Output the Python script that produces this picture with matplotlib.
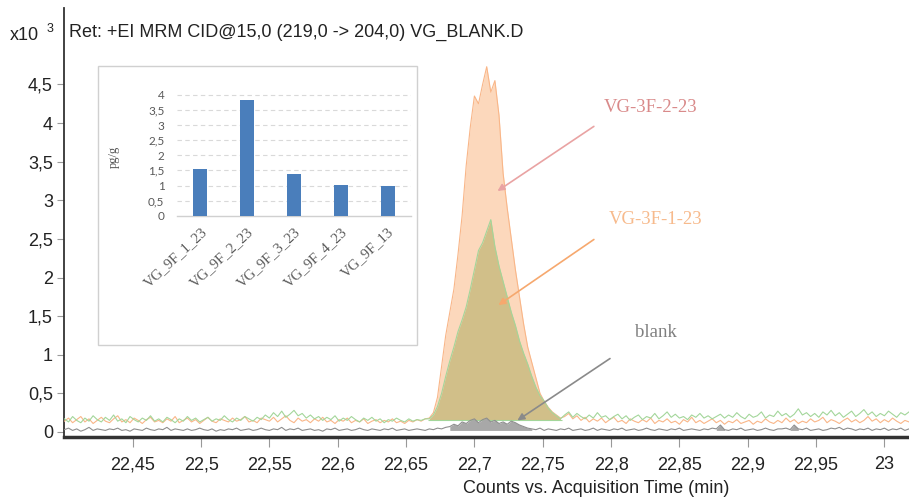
import numpy as np
import matplotlib
matplotlib.use("Agg")
import matplotlib.pyplot as plt
from matplotlib.patches import Rectangle

# ---------------- data ----------------
t_start, t_step, n_pts = 22.400, 0.003, 207
acq_time = t_start + t_step * np.arange(n_pts)   # acquisition time grid (min)

# VG-3F-2-23 (x10^3 counts)
vg_2_23 = [
    0.14,0.18,0.12,0.16,0.20,0.13,0.17,0.11,0.15,0.19,
    0.14,0.12,0.17,0.21,0.13,0.16,0.12,0.18,0.15,0.11,
    0.16,0.19,0.13,0.15,0.12,0.17,0.14,0.20,0.12,0.15,
    0.18,0.13,0.16,0.11,0.15,0.19,0.14,0.12,0.17,0.15,
    0.13,0.18,0.14,0.16,0.20,0.13,0.15,0.12,0.18,0.16,
    0.14,0.19,0.13,0.17,0.21,0.15,0.12,0.18,0.14,0.16,
    0.12,0.17,0.14,0.19,0.13,0.15,0.11,0.16,0.14,0.18,
    0.12,0.15,0.13,0.17,0.11,0.14,0.16,0.12,0.15,0.13,
    0.17,0.12,0.14,0.11,0.15,0.13,0.16,0.14,0.17,
    0.18,0.25,0.45,0.85,1.25,1.55,1.85,2.30,2.80,3.45,
    3.95,4.35,4.25,4.50,4.73,4.40,4.55,4.10,3.35,2.90,
    2.50,2.10,1.75,1.40,1.10,0.90,0.70,0.50,0.40,0.32,
    0.26,0.22,0.18,
    0.20,0.24,0.17,0.21,0.15,0.19,0.13,0.17,0.14,0.18,
    0.12,0.16,0.19,0.13,0.15,0.11,0.17,0.14,0.12,0.16,
    0.13,0.18,0.11,0.15,0.13,0.17,0.12,0.14,0.10,0.16,
    0.13,0.19,0.12,0.15,0.11,0.14,0.17,0.12,0.15,0.10,
    0.14,0.12,0.16,0.11,0.13,0.15,0.10,0.14,0.12,0.17,
    0.13,0.11,0.15,0.12,0.18,0.13,0.16,0.11,0.14,0.12,
    0.17,0.13,0.15,0.19,0.12,0.16,0.14,0.11,0.15,0.18,
    0.13,0.16,0.12,0.15,0.20,0.14,0.17,0.12,0.16,0.13,
    0.18,0.14,0.11,0.15,0.13,
]

# VG-3F-1-23 (x10^3 counts)
vg_1_23 = [
    0.17,0.13,0.20,0.15,0.12,0.18,0.14,0.21,0.16,0.13,
    0.19,0.15,0.22,0.14,0.17,0.12,0.20,0.16,0.13,0.18,
    0.15,0.21,0.14,0.17,0.13,0.19,0.16,0.12,0.17,0.14,
    0.20,0.15,0.18,0.13,0.16,0.19,0.14,0.17,0.15,0.21,
    0.16,0.13,0.18,0.15,0.20,0.17,0.14,0.19,0.16,0.22,
    0.18,0.25,0.20,0.27,0.19,0.23,0.28,0.21,0.24,0.18,
    0.22,0.17,0.20,0.15,0.19,0.16,0.21,0.14,0.18,0.15,
    0.20,0.16,0.13,0.18,0.15,0.19,0.14,0.17,0.12,0.16,
    0.14,0.18,0.15,0.13,0.17,0.14,0.16,0.15,0.17,
    0.17,0.22,0.33,0.50,0.72,0.92,1.10,1.30,1.45,1.62,
    1.85,2.10,2.35,2.45,2.60,2.75,2.40,2.15,1.95,1.75,
    1.55,1.38,1.18,1.02,0.88,0.72,0.58,0.47,0.40,0.31,
    0.25,0.21,0.17,
    0.22,0.26,0.19,0.24,0.20,0.17,0.22,0.18,0.25,0.19,
    0.21,0.16,0.20,0.23,0.17,0.21,0.15,0.19,0.22,0.16,
    0.20,0.18,0.24,0.17,0.21,0.26,0.19,0.23,0.18,0.20,
    0.16,0.22,0.19,0.24,0.18,0.21,0.17,0.20,0.23,0.18,
    0.22,0.19,0.25,0.20,0.17,0.23,0.19,0.21,0.26,0.18,
    0.22,0.20,0.27,0.21,0.24,0.19,0.23,0.30,0.22,0.25,
    0.20,0.24,0.19,0.26,0.22,0.28,0.21,0.25,0.19,0.23,
    0.27,0.20,0.24,0.29,0.22,0.26,0.20,0.24,0.21,0.27,
    0.23,0.19,0.25,0.22,0.26,
]

# blank (x10^3 counts)
blank = [
    0.03,0.05,0.02,0.04,0.01,0.03,0.06,0.02,0.04,0.03,
    0.02,0.04,0.03,0.05,0.02,0.03,0.01,0.04,0.03,0.02,
    0.05,0.03,0.02,0.04,0.03,0.06,0.02,0.04,0.03,0.02,
    0.04,0.02,0.03,0.05,0.03,0.02,0.04,0.01,0.03,0.02,
    0.04,0.03,0.05,0.02,0.03,0.04,0.02,0.03,0.05,0.03,
    0.02,0.04,0.03,0.06,0.02,0.04,0.03,0.05,0.02,0.03,
    0.04,0.02,0.03,0.01,0.04,0.03,0.05,0.02,0.03,0.04,
    0.02,0.03,0.05,0.03,0.02,0.04,0.03,0.02,0.04,0.03,
    0.05,0.02,0.03,0.04,0.02,0.03,0.04,0.03,0.02,0.04,
    0.03,0.05,0.04,0.06,
    0.07,0.10,0.08,0.13,0.11,0.15,0.17,0.12,0.16,0.18,
    0.13,0.15,0.11,0.13,0.10,0.14,0.12,0.09,0.07,0.05,0.04,
    0.03,0.05,0.02,0.04,0.03,0.02,0.04,0.03,0.05,0.02,
    0.03,0.04,0.02,0.03,0.05,0.02,0.04,0.03,0.02,0.04,
    0.03,0.05,0.02,0.03,0.04,0.02,0.03,0.05,0.03,0.02,
    0.04,0.03,0.02,0.04,0.03,0.05,0.02,0.03,0.04,0.03,
    0.02,0.04,0.03,0.05,0.04,0.09,0.03,0.02,0.04,0.03,
    0.05,0.02,0.03,0.04,0.02,0.03,0.05,0.03,0.02,0.04,
    0.04,0.05,0.03,0.09,0.04,0.03,0.05,0.02,0.03,0.04,
    0.02,0.03,0.05,0.04,0.06,0.03,0.05,0.04,0.02,0.04,
    0.03,0.05,0.02,0.04,0.03,0.05,0.02,0.04,0.03,0.05,
    0.02,0.04,
]

peak_window = (22.666, 22.764)      # integrated peak region (min)
peak_baseline = 0.16                # integration baseline (x10^3)
blank_windows = [(22.681, 22.743), (22.8765, 22.8835), (22.9305, 22.9375)]
blank_baseline = 0.02

x_ticks = [22.45, 22.50, 22.55, 22.60, 22.65, 22.70, 22.75, 22.80, 22.85, 22.90, 22.95, 23.00]
x_tick_labels = ["22,45", "22,5", "22,55", "22,6", "22,65", "22,7", "22,75", "22,8",
                 "22,85", "22,9", "22,95", "23"]
y_ticks = [0, 0.5, 1, 1.5, 2, 2.5, 3, 3.5, 4, 4.5]
y_tick_labels = ["0", "0,5", "1", "1,5", "2", "2,5", "3", "3,5", "4", "4,5"]

# inset bar chart
inset_categories = ["VG_9F_1_23", "VG_9F_2_23", "VG_9F_3_23", "VG_9F_4_23", "VG_9F_13"]
inset_values = [1.55, 3.82, 1.38, 1.01, 0.97]
inset_y_ticks = [0, 0.5, 1, 1.5, 2, 2.5, 3, 3.5, 4]
inset_y_tick_labels = ["0", "0,5", "1", "1,5", "2", "2,5", "3", "3,5", "4"]

# ---------------- figure ----------------
W, H = 909, 498
fig = plt.figure(figsize=(W / 100, H / 100), dpi=100)
sans = ["Liberation Sans", "DejaVu Sans"]
serif = ["Liberation Serif", "DejaVu Serif"]
FS = 13

def fx(px):
    return px / W

def fy(py):
    return 1 - py / H

ax = fig.add_axes([fx(64), fy(437), fx(909) - fx(64), fy(8) - fy(437)])
ax.set_xlim(22.3997, 23.018)
ax.set_ylim(-0.065, 5.49)

t = acq_time
y2 = np.array(vg_2_23)
y1 = np.array(vg_1_23)
yb = np.array(blank)

pk = (t >= peak_window[0]) & (t <= peak_window[1])
ax.fill_between(t, peak_baseline, y2, where=pk, color="#FCD8BC", lw=0, zorder=1)
ax.fill_between(t, peak_baseline, y1, where=pk, color="#D1BF89", lw=0, zorder=2)
ax.plot(t, y2, color="#F9B688", lw=0.8, zorder=3)
ax.plot(t, y1, color="#A3D69A", lw=0.8, zorder=4)
ax.hlines(peak_baseline, peak_window[0], peak_window[1], color="#A3D69A", lw=0.8, zorder=4)

for (a, b) in blank_windows:
    m = (t >= a) & (t <= b)
    ax.fill_between(t, blank_baseline, yb, where=m, color="#A8A8A8", lw=0, zorder=5)
ax.plot(t, yb, color="#8E8E8E", lw=0.8, zorder=6)

ax.set_xticks(x_ticks)
ax.set_xticklabels(x_tick_labels)
ax.set_yticks(y_ticks)
ax.set_yticklabels(y_tick_labels)
for lab in ax.get_xticklabels() + ax.get_yticklabels():
    lab.set_family(sans)
    lab.set_fontsize(FS)
    lab.set_color("#222222")
ax.tick_params(axis="x", direction="out", length=7, width=0.8, color="#999999", pad=7)
ax.tick_params(axis="y", direction="out", length=5, width=0.8, color="#999999", pad=3)
for s in ("top", "right"):
    ax.spines[s].set_visible(False)
ax.spines["left"].set_color("#333333")
ax.spines["left"].set_linewidth(1.3)
ax.spines["bottom"].set_color("#333333")
ax.spines["bottom"].set_linewidth(2.5)

# annotations (arrows + labels)
ax.annotate("", xy=(22.7152, 3.10), xytext=(22.7891, 3.977),
            arrowprops=dict(arrowstyle="-|>", color="#E9A3A3", lw=1.2, mutation_scale=10), zorder=8)
ax.text(22.8288, 4.197, "VG-3F-2-23", family=serif, fontsize=13.5, color="#D98A8A",
        ha="center", va="center", zorder=8)
ax.annotate("", xy=(22.7159, 1.623), xytext=(22.7891, 2.513),
            arrowprops=dict(arrowstyle="-|>", color="#F6A86E", lw=1.2, mutation_scale=10), zorder=8)
ax.text(22.8325, 2.746, "VG-3F-1-23", family=serif, fontsize=13.5, color="#F7BA8C",
        ha="center", va="center", zorder=8)
ax.annotate("", xy=(22.7298, 0.13), xytext=(22.8009, 0.971),
            arrowprops=dict(arrowstyle="-|>", color="#8A8A8A", lw=1.2, mutation_scale=10), zorder=8)
ax.text(22.833, 1.282, "blank", family=serif, fontsize=13.5, color="#7F7F7F",
        ha="center", va="center", zorder=8)

# header texts
fig.text(fx(10), fy(35), "x10", family=sans, fontsize=FS, color="#222222", va="center", ha="left")
fig.text(fx(47), fy(29), "3", family=sans, fontsize=9, color="#222222", va="center", ha="left")
fig.text(fx(69), fy(32), "Ret: +EI MRM CID@15,0 (219,0 -> 204,0) VG_BLANK.D", family=sans,
         fontsize=FS, color="#222222", va="center", ha="left")
fig.text(fx(596), fy(488), "Counts vs. Acquisition Time (min)", family=sans, fontsize=FS,
         color="#222222", va="center", ha="center")

# ---------------- inset ----------------
fig.patches.append(Rectangle((fx(98), fy(345)), fx(417) - fx(98), fy(66) - fy(345),
                             transform=fig.transFigure, facecolor="white",
                             edgecolor="#D0D0D0", lw=1.0, zorder=10))
iax = fig.add_axes([fx(177), fy(215.7), fx(411) - fx(177), fy(88.9) - fy(215.7)], zorder=11)
iax.set_facecolor("none")
xpos = np.arange(len(inset_categories))
iax.bar(xpos, inset_values, width=0.3, color="#4A7EBB", zorder=3)
iax.set_xlim(-0.5, len(inset_categories) - 0.5)
iax.set_ylim(0, 4.2)
iax.set_yticks(inset_y_ticks)
iax.set_yticklabels(inset_y_tick_labels, family=["Lato", "DejaVu Sans"], fontsize=8.5, color="#595959")
iax.set_xticks(xpos)
iax.set_xticklabels(inset_categories, family=serif, fontsize=10.5, color="#595959",
                    rotation=43, ha="right", rotation_mode="anchor")
iax.tick_params(axis="both", length=0)
iax.tick_params(axis="y", pad=9)
iax.tick_params(axis="x", pad=7)
for yv in inset_y_ticks[1:]:
    iax.axhline(yv, color="#D9D9D9", lw=0.8, ls=(0, (4, 3)), zorder=1)
for s in ("top", "right", "left"):
    iax.spines[s].set_visible(False)
iax.spines["bottom"].set_color("#D0D0D0")
iax.spines["bottom"].set_linewidth(1.0)
fig.text(fx(114), fy(157), "pg/g", family=serif, fontsize=9, color="#595959",
         rotation=90, va="center", ha="center", zorder=12)

fig.savefig("out.png", dpi=100)
